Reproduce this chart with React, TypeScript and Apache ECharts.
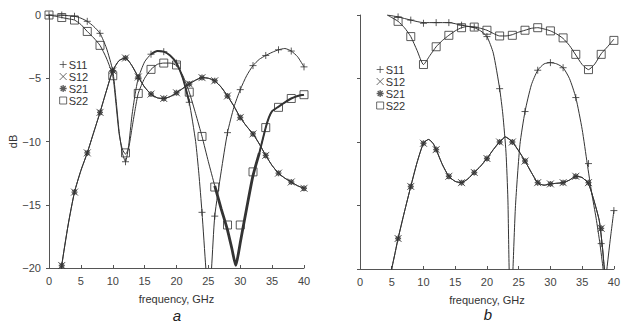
import React, { useEffect, useRef } from "react";
import * as echarts from "echarts";

// ---------- Panel a (frequency GHz, dB) ----------
const s11LineA = [[0,0],[2,-0.02],[4,-0.1],[5,-0.25],[6,-0.5],[7,-0.9],[8,-1.45],[9,-2.6],[10,-4.4],[10.5,-6.6],[11,-9.2],[11.5,-10.9],[12,-11.6],[12.5,-10.3],[13,-8.0],[13.5,-6.3],[14,-5.0],[15,-3.7],[16,-3.1],[17,-2.85],[18,-2.9],[19,-3.2],[20,-3.8],[21,-5.0],[22,-6.9],[23,-10.0],[23.5,-12.5],[24,-15.6],[24.6,-20],[25.05,-23],[25.5,-20],[26,-15.9],[27,-12.4],[28,-9.3],[29,-7.3],[30,-5.9],[31,-4.8],[32,-4.0],[33,-3.5],[34,-3.2],[35,-2.95],[36,-2.75],[37,-2.65],[38,-2.85],[39,-3.3],[40,-4.1]];
const s21LineA = [[1.8,-21],[2,-19.8],[3,-16.6],[4,-14.0],[5,-12.3],[6,-10.9],[7,-9.3],[8,-7.7],[9,-6.0],[10,-4.4],[11,-3.6],[12,-3.4],[13,-4.0],[14,-4.9],[15,-5.7],[16,-6.25],[17,-6.55],[18,-6.6],[19,-6.45],[20,-6.15],[21,-5.8],[22,-5.45],[23,-5.15],[24,-4.95],[25,-5.0],[26,-5.2],[27,-5.7],[28,-6.4],[29,-7.2],[30,-8.1],[31,-8.8],[32,-9.4],[33,-10.2],[34,-11.1],[35,-11.9],[36,-12.5],[37,-12.9],[38,-13.2],[39,-13.5],[40,-13.7]];
const s12LineA = s21LineA;
const s22LineA = [[0,0],[1,-0.1],[2,-0.2],[3,-0.3],[4,-0.4],[5,-0.75],[6,-1.3],[7,-1.8],[8,-2.4],[9,-3.4],[10,-4.8],[10.5,-7.0],[11,-9.4],[11.5,-10.6],[12,-11.0],[12.5,-10.5],[13,-9.0],[13.5,-7.5],[14,-6.2],[15,-5.0],[16,-4.3],[17,-3.9],[18,-3.8],[19,-3.8],[20,-4.0],[21,-4.8],[22,-6.1],[23,-7.8],[24,-9.6],[25,-11.6],[26,-13.5],[27,-15.3],[28,-17.0],[28.7,-18.5],[29.3,-19.8],[29.8,-18.6],[30,-18.0],[31,-15.3],[32,-12.7],[33,-10.9],[34,-8.9],[34.5,-8.1],[35,-7.6],[36,-7.25],[37,-6.9],[38,-6.6],[39,-6.4],[40,-6.3]];

const s11MarksA = [[0,0],[2,0],[4,-0.1],[6,-0.5],[8,-1.45],[10,-4.4],[12,-11.6],[14,-5.0],[16,-3.1],[18,-2.9],[20,-3.8],[22,-6.9],[24,-15.6],[26,-15.9],[28,-9.3],[30,-5.9],[32,-4.0],[34,-3.2],[36,-2.75],[38,-2.85],[40,-4.1]];
const s12MarksA = [[2,-19.8],[4,-14.0],[6,-10.9],[8,-7.7],[10,-4.4],[12,-3.4],[14,-4.9],[16,-6.25],[18,-6.6],[20,-6.15],[22,-5.45],[24,-4.95],[26,-5.2],[28,-6.4],[30,-8.1],[32,-9.4],[34,-11.1],[36,-12.5],[38,-13.2],[40,-13.7]];
const s21MarksA = s12MarksA;
const s22MarksA = [[0,0],[2,-0.2],[4,-0.4],[6,-1.3],[8,-2.4],[10,-4.8],[12,-10.9],[14,-6.2],[16,-4.3],[18,-3.8],[20,-3.95],[22,-6.1],[24,-9.6],[26,-13.6],[28,-16.6],[30,-16.6],[32,-12.4],[34,-8.9],[36,-7.3],[38,-6.6],[40,-6.3]];

// ---------- Panel b ----------
const s11LineB = [[4.3,0],[6,-0.15],[8,-0.4],[10,-0.6],[12,-0.6],[14,-0.6],[16,-0.8],[18,-1.0],[19,-1.25],[20,-1.7],[21,-3.0],[22,-5.8],[22.5,-7.8],[23,-10.8],[23.3,-14.5],[23.5,-20],[23.8,-24],[24.1,-20],[24.5,-15],[25.2,-10.2],[26,-7.6],[27,-5.5],[28,-4.35],[29,-3.85],[30,-3.75],[31,-3.85],[32,-4.15],[33,-5.0],[34,-6.5],[35,-9.0],[35.8,-11.7],[36.5,-14],[37.2,-16],[37.8,-18],[38.3,-20],[38.6,-21.5],[38.9,-20],[39.4,-17.8],[40,-15.4]];
const s21LineB = [[4.8,-21],[5,-20],[5.5,-18.8],[6,-17.6],[7,-15.5],[8,-13.5],[9,-11.6],[10,-10.1],[10.8,-9.8],[11.5,-10.1],[12,-10.6],[13,-11.8],[14,-12.7],[15,-13.1],[16,-13.2],[17,-12.9],[18,-12.4],[19,-11.9],[20,-11.3],[21,-10.6],[22,-10.0],[22.9,-9.6],[24,-10.0],[25,-10.7],[26,-11.5],[27,-12.4],[28,-13.2],[29,-13.4],[30,-13.3],[31,-13.25],[32,-13.2],[33,-13.0],[34,-12.7],[35,-12.8],[36,-13.3],[36.8,-14.5],[37.7,-16.2],[38.2,-18.3],[38.5,-20],[38.8,-21.5]];
const s12LineB = s21LineB;
const s22LineB = [[4.3,0],[5,-0.2],[6,-0.5],[7,-1.0],[8,-1.7],[9,-2.8],[10,-3.9],[11,-3.2],[12,-2.5],[13,-2.0],[14,-1.6],[15,-1.25],[16,-1.0],[17,-0.9],[18,-0.95],[19,-1.05],[20,-1.2],[21,-1.45],[22,-1.65],[23,-1.65],[24,-1.55],[25,-1.35],[26,-1.2],[27,-1.05],[28,-1.0],[29,-1.1],[30,-1.25],[31,-1.5],[32,-1.85],[33,-2.4],[34,-3.15],[35,-3.9],[36,-4.3],[37,-3.85],[38,-3.05],[39,-2.5],[40,-1.9]];

const s11MarksB = [[6,-0.15],[8,-0.4],[10,-0.65],[12,-0.6],[14,-0.6],[16,-0.8],[18,-0.95],[20,-1.7],[22,-5.8],[26,-7.6],[28,-4.35],[30,-3.75],[32,-4.15],[34,-6.5],[36,-11.7],[38,-18],[40,-15.4]];
const s12MarksB = [[6,-17.6],[8,-13.5],[10,-10.1],[12,-10.6],[14,-12.7],[16,-13.2],[18,-12.4],[20,-11.3],[22,-10.0],[24,-10.0],[26,-11.5],[28,-13.2],[30,-13.3],[32,-13.2],[34,-12.7],[36,-13.2],[38,-16.8]];
const s21MarksB = s12MarksB;
const s22MarksB = [[6,-0.5],[8,-1.7],[10,-3.9],[12,-2.5],[14,-1.6],[16,-1.0],[18,-0.95],[20,-1.2],[22,-1.65],[24,-1.6],[26,-1.2],[28,-1.0],[30,-1.25],[32,-1.8],[34,-3.1],[36,-4.3],[38,-3.1],[40,-2.0]];

const xTicks = [0, 40, 5];
const yTicks = [-20, 0, 5];
const names = ["S11", "S12", "S21", "S22"];

const FONT = "Liberation Sans, Arial, Helvetica, sans-serif";
const INK = "#333";
const AXIS = "#555";

const PLUS = "path://M5,0L5,10M0,5L10,5";
const CROSS = "path://M0,0L10,10M10,0L0,10";
const STAR = "path://M5,0L5,10M0,5L10,5M1.5,1.5L8.5,8.5M8.5,1.5L1.5,8.5";
const SQUARE = "path://M0,0L10,0L10,10L0,10Z";

const styleFor: Record<string, any> = {
  S11: { symbol: PLUS, size: 7, item: { color: "transparent", borderColor: INK, borderWidth: 1 } },
  S12: { symbol: CROSS, size: 7, item: { color: "transparent", borderColor: INK, borderWidth: 1 } },
  S21: { symbol: STAR, size: 6, item: { color: "transparent", borderColor: INK, borderWidth: 1.4 } },
  S22: { symbol: SQUARE, size: 8, item: { color: "transparent", borderColor: INK, borderWidth: 1 } },
};

export default function App() {
  const ref = useRef<HTMLDivElement>(null);
  useEffect(() => {
    if (!ref.current) return;
    const chart = echarts.init(ref.current, undefined, { renderer: "svg" });

    const line = (data: number[][], gi: number, width = 1) => ({
      type: "line", xAxisIndex: gi, yAxisIndex: gi, data, showSymbol: false, symbol: "none",
      smooth: 0.2, clip: true, silent: true, z: 2,
      lineStyle: { color: INK, width },
    });
    const marks = (name: string, data: number[][], gi: number) => ({
      type: "scatter", name, xAxisIndex: gi, yAxisIndex: gi, data, silent: true, z: 5, clip: true,
      symbol: styleFor[name].symbol, symbolSize: styleFor[name].size, itemStyle: styleFor[name].item,
    });
    const between = (d: number[][], a: number, b: number) => d.filter((p) => p[0] >= a && p[0] <= b);

    const xAxis = (gi: number) => ({
      type: "value", gridIndex: gi, min: xTicks[0], max: xTicks[1], interval: xTicks[2],
      name: "frequency, GHz", nameLocation: "middle", nameGap: 25,
      nameTextStyle: { fontSize: 11, color: INK, fontFamily: FONT },
      axisLine: { show: true, onZero: false, lineStyle: { color: AXIS, width: 1 } },
      axisTick: { show: true, inside: true, length: 3, lineStyle: { color: AXIS } },
      axisLabel: { fontSize: 11, color: "#444", margin: 7, fontFamily: FONT },
      splitLine: { show: false },
    });
    const yAxis = (gi: number, labels: boolean) => ({
      type: "value", gridIndex: gi, min: yTicks[0], max: yTicks[1], interval: yTicks[2],
      name: labels ? "dB" : "", nameLocation: "middle", nameGap: 30, nameRotate: 90,
      nameTextStyle: { fontSize: 11, color: INK, fontFamily: FONT },
      axisLine: { show: true, onZero: false, lineStyle: { color: AXIS, width: 1 } },
      axisTick: { show: true, inside: false, length: 3, lineStyle: { color: AXIS } },
      axisLabel: {
        show: labels, fontSize: 11, color: "#444", margin: 8, fontFamily: FONT,
        formatter: (v: number) => (v < 0 ? "\u2212" + Math.abs(v) : String(v)),
      },
      splitLine: { show: false },
    });
    const legend = (left: number, top: number) => ({
      data: names.map((n) => ({
        name: n, icon: styleFor[n].symbol,
        itemStyle: { color: "transparent", borderColor: INK, borderWidth: n === "S21" ? 1.3 : 0.9 },
      })),
      left, top, orient: "vertical", itemWidth: 7, itemHeight: 7, itemGap: 1,
      padding: 0, selectedMode: false,
      textStyle: { fontSize: 11, color: INK, fontFamily: FONT, lineHeight: 8, padding: [0, 0, 0, -3] },
    });

    chart.setOption({
      animation: false,
      backgroundColor: "#fff",
      grid: [
        { left: 49, top: 15, width: 255, height: 253 },
        { left: 360, top: 15, width: 257, height: 254 },
      ],
      xAxis: [xAxis(0), xAxis(1)],
      yAxis: [yAxis(0, true), yAxis(1, false)],
      legend: [legend(59, 59), legend(376, 64)],
      graphic: [
        { type: "text", x: 177, y: 315, style: { text: "a", font: "italic 15px " + FONT, fill: "#222", align: "center", verticalAlign: "middle", textAlign: "center", textVerticalAlign: "middle" } },
        { type: "text", x: 488, y: 314, style: { text: "b", font: "italic 15px " + FONT, fill: "#222", align: "center", verticalAlign: "middle", textAlign: "center", textVerticalAlign: "middle" } },
      ],
      series: [
        line(s11LineA, 0), line(s12LineA, 0), line(s21LineA, 0), line(s22LineA, 0),
        line(between(s11LineA, 15.5, 22.2), 0, 1.9),
        line(between(s22LineA, 25.5, 33.2), 0, 2.8),
        line(between(s22LineA, 33, 40), 0, 2.0),
        marks("S11", s11MarksA, 0), marks("S12", s12MarksA, 0), marks("S21", s21MarksA, 0), marks("S22", s22MarksA, 0),
        line(s11LineB, 1), line(s12LineB, 1), line(s21LineB, 1), line(s22LineB, 1),
        marks("S11", s11MarksB, 1), marks("S12", s12MarksB, 1), marks("S21", s21MarksB, 1), marks("S22", s22MarksB, 1),
      ],
    });
    return () => chart.dispose();
  }, []);
  return <div ref={ref} style={{ position: "absolute", left: 0, top: 0, width: 623, height: 324 }} />;
}
